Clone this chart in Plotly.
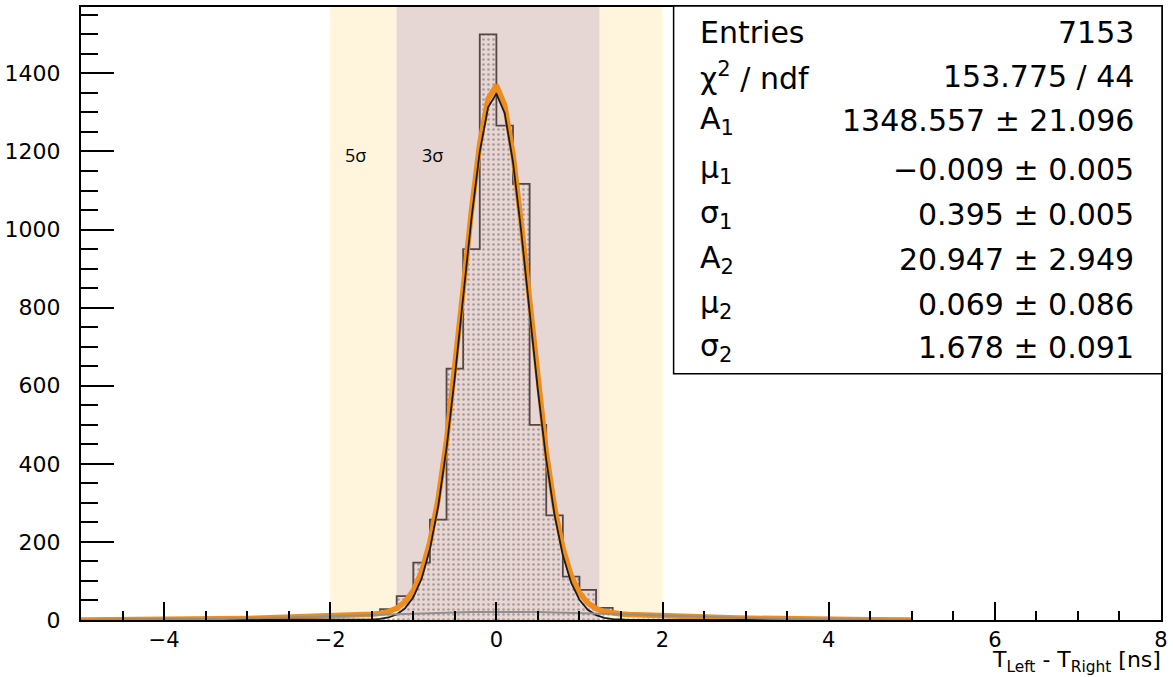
import numpy as np
import plotly.graph_objects as go

# ---------------- data ----------------
bin_centers = [-4.9, -4.7, -4.5, -4.3, -4.1, -3.9, -3.7, -3.5, -3.3, -3.1,
               -2.9, -2.7, -2.5, -2.3, -2.1, -1.9, -1.7, -1.5, -1.3, -1.1,
               -0.9, -0.7, -0.5, -0.3, -0.1, 0.1, 0.3, 0.5, 0.7, 0.9,
               1.1, 1.3, 1.5, 1.7, 1.9, 2.1, 2.3, 2.5, 2.7, 2.9,
               3.1, 3.3, 3.5, 3.7, 3.9, 4.1, 4.3, 4.5, 4.7, 4.9]
counts = [0, 1, 0, 1, 2, 1, 2, 3, 2, 4,
          3, 5, 6, 7, 8, 10, 12, 14, 28, 61,
          147, 257, 644, 950, 1500, 1266, 1117, 500, 268, 111,
          77, 31, 15, 12, 11, 9, 8, 6, 5, 5,
          4, 3, 2, 2, 1, 2, 1, 0, 1, 0]
bin_width = 0.2

# fit parameters (as printed in the stats box)
A1, mu1, s1 = 1348.557, -0.009, 0.395
A2, mu2, s2 = 20.947, 0.069, 1.678
fit_range = (-5.0, 5.0)
fit_npx = 101

stat_labels = ["Entries", "χ<sup>2</sup> / ndf", "A<sub>1</sub>", "μ<sub>1</sub>",
               "σ<sub>1</sub>", "A<sub>2</sub>", "μ<sub>2</sub>", "σ<sub>2</sub>"]
stat_values = ["7153", "153.775 / 44", "1348.557 ± 21.096", "−0.009 ± 0.005",
               "0.395 ± 0.005", "20.947 ± 2.949", "0.069 ± 0.086", "1.678 ± 0.091"]

band5 = (-2.0, 2.0)
band3 = (-1.2, 1.24)

# ---------------- fit curves ----------------
xf = np.linspace(fit_range[0], fit_range[1], fit_npx)
g1 = A1 * np.exp(-0.5 * ((xf - mu1) / s1) ** 2)
g2 = A2 * np.exp(-0.5 * ((xf - mu2) / s2) ** 2)
gsum = g1 + g2

# ---------------- layout helpers (pixel -> paper) ----------------
L, R, T, B = 80, 1168, 5, 620
W, H = 1173, 677
def px(x):
    return (x - L) / (R - L)
def py(y):
    return (B - y) / (B - T)

FONT = "DejaVu Sans"

fig = go.Figure()

fig.add_trace(go.Bar(
    x=bin_centers, y=counts, width=bin_width,
    marker=dict(color="rgba(0,0,0,0)", line=dict(width=0),
                pattern=dict(shape=".", fgcolor="#6e5a5a", bgcolor="rgba(0,0,0,0)",
                             size=5, solidity=0.22)),
    showlegend=False, hoverinfo="skip"))

fig.add_trace(go.Scatter(
    x=bin_centers, y=counts, mode="lines", line_shape="hvh",
    line=dict(color="#554545", width=1.8), showlegend=False))

fig.add_trace(go.Scatter(x=xf, y=gsum, mode="lines",
                         line=dict(color="#ee8d1b", width=5.5), showlegend=False))
fig.add_trace(go.Scatter(x=xf, y=g1, mode="lines",
                         line=dict(color="#1a1a1a", width=1.8), showlegend=False))
fig.add_trace(go.Scatter(x=xf, y=g2, mode="lines",
                         line=dict(color="#8f8f8f", width=2), showlegend=False))

shapes = [
    dict(type="rect", xref="x", yref="paper", x0=band5[0], x1=band5[1], y0=0, y1=1,
         fillcolor="#fef5dc", line=dict(width=0), layer="below"),
    dict(type="rect", xref="x", yref="paper", x0=band3[0], x1=band3[1], y0=0, y1=1,
         fillcolor="#e6d6d4", line=dict(width=0), layer="below"),
    dict(type="rect", xref="paper", yref="paper", x0=px(677), x1=px(1169),
         y0=py(373), y1=py(4), fillcolor="white",
         line=dict(color="black", width=1.5), layer="above"),
]

annotations = []
row_y = [31, 75, 119, 168, 213, 258, 303, 347]
for lab, val, yy in zip(stat_labels, stat_values, row_y):
    annotations.append(dict(xref="paper", yref="paper", x=px(702), y=py(yy),
                            xanchor="left", yanchor="middle", text=lab, showarrow=False,
                            font=dict(family=FONT, size=30, color="black")))
    annotations.append(dict(xref="paper", yref="paper", x=px(1143), y=py(yy),
                            xanchor="right", yanchor="middle", text=val, showarrow=False,
                            font=dict(family=FONT, size=30, color="black")))

annotations.append(dict(xref="x", yref="y", x=-1.7, y=1192, text="5σ", showarrow=False,
                        font=dict(family="Open Sans", size=18, color="black")))
annotations.append(dict(xref="x", yref="y", x=-0.77, y=1192, text="3σ", showarrow=False,
                        font=dict(family="Open Sans", size=18, color="black")))
annotations.append(dict(xref="paper", yref="paper", x=px(1169), y=py(677),
                        xanchor="right", yanchor="bottom", borderpad=0,
                        text="T<sub>Left</sub> - T<sub>Right</sub> [ns]", showarrow=False,
                        font=dict(family=FONT, size=22, color="black")))

fig.update_layout(
    width=W, height=H,
    margin=dict(l=L, r=W - R, t=T, b=H - B, pad=0),
    plot_bgcolor="white", paper_bgcolor="white",
    shapes=shapes, annotations=annotations,
    bargap=0, showlegend=False,
    font=dict(family=FONT, color="black"),
)
fig.update_xaxes(
    range=[-5, 8], showgrid=False, zeroline=False,
    showline=True, linecolor="black", linewidth=2, mirror=True,
    ticks="inside", ticklen=18, tickwidth=1.8, tickcolor="black",
    tick0=0, dtick=2, tickfont=dict(family=FONT, size=21, color="black"),
    minor=dict(ticks="inside", ticklen=9, tickwidth=1.8, tickcolor="black", dtick=0.5,
               showgrid=False),
    ticklabelstandoff=0, ticklabeloverflow="allow",
)
fig.update_yaxes(
    range=[0, 1570], showgrid=False, zeroline=False,
    showline=True, linecolor="black", linewidth=2, mirror=True,
    ticks="inside", ticklen=33, tickwidth=1.8, tickcolor="black",
    tick0=0, dtick=200, tickfont=dict(family=FONT, size=22, color="black"),
    minor=dict(ticks="inside", ticklen=17, tickwidth=1.8, tickcolor="black", dtick=50,
               showgrid=False),
    ticklabelstandoff=14,
)

fig.write_html("out.html")
